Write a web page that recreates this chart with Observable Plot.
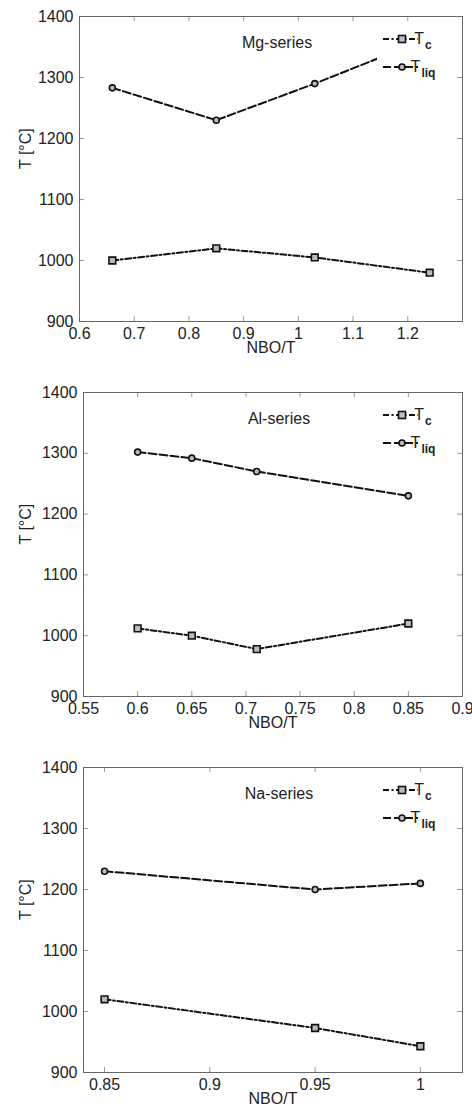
<!DOCTYPE html>
<html><head><meta charset="utf-8">
<script src="https://cdn.jsdelivr.net/npm/d3@7"></script>
<script src="https://cdn.jsdelivr.net/npm/@observablehq/plot@0.6"></script>
<style>body{margin:0;background:#fff} #c svg{display:block}</style>
</head><body><div id="c"></div>
<script>
// Mg-series
const mgNBO = [0.66, 0.85, 1.03, 1.24];
const mgTc = [1000, 1020, 1005, 980];
const mgTliq = [1283, 1230, 1290, 1365];
const mgXTicks = [0.6, 0.7, 0.8, 0.9, 1, 1.1, 1.2];
// Al-series
const alNBO = [0.6, 0.65, 0.71, 0.85];
const alTc = [1012, 1000, 978, 1020];
const alTliq = [1302, 1292, 1270, 1230];
const alXTicks = [0.55, 0.6, 0.65, 0.7, 0.75, 0.8, 0.85, 0.9];
// Na-series
const naNBO = [0.85, 0.95, 1.0];
const naTc = [1020, 973, 943];
const naTliq = [1230, 1200, 1210];
const naXTicks = [0.85, 0.9, 0.95, 1];
const yTicks = [900, 1000, 1100, 1200, 1300, 1400];
const seriesNames = ["Mg-series", "Al-series", "Na-series"];

const DASH_TC = "6,2.5,2,2.5";
const DASH_LIQ = "8,3";
const INK = "#111";
const LW = 2;

function legendMark(index, scales, values, dims) {
  const g = d3.create("svg:g");
  const x0 = dims.width - dims.marginRight - 85;
  const y0 = dims.marginTop;
  g.append("rect").attr("x", x0).attr("y", y0 + 5).attr("width", 78).attr("height", 64).attr("fill", "white");
  const rows = [
    {dy: 23, dash: DASH_TC, sym: "square", sub: "c"},
    {dy: 51, dash: DASH_LIQ, sym: "circle", sub: "liq"}
  ];
  for (const r of rows) {
    const y = y0 + r.dy;
    g.append("line").attr("x1", x0 + 6).attr("x2", x0 + 41).attr("y1", y).attr("y2", y)
      .attr("stroke", INK).attr("stroke-width", LW).attr("stroke-dasharray", r.dash);
    if (r.sym === "square") {
      g.append("rect").attr("x", x0 + 21.5).attr("y", y - 3.5).attr("width", 7).attr("height", 7)
        .attr("fill", "#bbb").attr("stroke", INK).attr("stroke-width", 1.6);
    } else {
      g.append("circle").attr("cx", x0 + 25).attr("cy", y).attr("r", 3)
        .attr("fill", "#bbb").attr("stroke", INK).attr("stroke-width", 1.6);
    }
    const t = g.append("text").attr("x", x0 + 46).attr("y", y + 5).attr("fill", "#222")
      .attr("font-size", 16);
    t.append("tspan").text("T");
    t.append("tspan").attr("dy", 5).attr("dx", 1).attr("font-size", 12).attr("font-weight", "bold").text(r.sub);
  }
  return g.node();
}

function panel({xDomain, xTicks, nbo, tc, tliq, name, height, mt, mb, ml}) {
  const W = 472, mr = 10;
  const fh = height - mt - mb, fw = W - ml - mr;
  const rowsTc = nbo.map((x, i) => ({x, y: tc[i]}));
  const rowsLiq = nbo.map((x, i) => ({x, y: tliq[i]}));
  return Plot.plot({
    width: W, height, marginTop: mt, marginBottom: mb, marginLeft: ml, marginRight: mr,
    style: {fontFamily: "'Liberation Sans', Arial, sans-serif", fontSize: "16px", color: "#222", background: "white"},
    x: {domain: xDomain, axis: null},
    y: {domain: [900, 1400], axis: null},
    marks: [
      Plot.tickX(xTicks, {x: d => d, stroke: "#999", insetTop: fh - 5}),
      Plot.tickX(xTicks, {x: d => d, stroke: "#999", insetBottom: fh - 5}),
      Plot.tickY(yTicks, {y: d => d, stroke: "#999", insetRight: fw - 5}),
      Plot.tickY(yTicks, {y: d => d, stroke: "#999", insetLeft: fw - 5}),
      Plot.frame({stroke: "#666"}),
      Plot.axisX(xTicks, {tickSize: 0, tickPadding: 6, tickFormat: d => String(d), label: null, fill: "#222"}),
      Plot.axisY(yTicks, {tickSize: 0, tickPadding: 6, tickFormat: d => String(d), label: null, fill: "#222"}),
      Plot.line(rowsTc, {x: "x", y: "y", stroke: INK, strokeWidth: LW, strokeDasharray: DASH_TC}),
      Plot.line(rowsLiq, {x: "x", y: "y", stroke: INK, strokeWidth: LW, strokeDasharray: DASH_LIQ}),
      Plot.dot(rowsTc, {x: "x", y: "y", symbol: "square", r: 3.8, stroke: INK, fill: "#bbb", strokeWidth: 1.6}),
      Plot.dot(rowsLiq, {x: "x", y: "y", symbol: "circle", r: 3, stroke: INK, fill: "#bbb", strokeWidth: 1.6}),
      Plot.text([name], {frameAnchor: "top", dx: 6, dy: 20, fill: "#222"}),
      Plot.text(["NBO/T"], {frameAnchor: "bottom", dy: 31, fill: "#222"}),
      Plot.text(["T [°C]"], {frameAnchor: "left", dx: -(ml - 25), rotate: -90, fill: "#222"}),
      legendMark
    ]
  });
}

const c = document.getElementById("c");
c.append(panel({xDomain: [0.6, 1.3], xTicks: mgXTicks, nbo: mgNBO, tc: mgTc, tliq: mgTliq, name: seriesNames[0], height: 370, mt: 16, mb: 49, ml: 79}));
c.append(panel({xDomain: [0.55, 0.9], xTicks: alXTicks, nbo: alNBO, tc: alTc, tliq: alTliq, name: seriesNames[1], height: 370, mt: 22, mb: 44, ml: 83}));
c.append(panel({xDomain: [0.84, 1.02], xTicks: naXTicks, nbo: naNBO, tc: naTc, tliq: naTliq, name: seriesNames[2], height: 371, mt: 27, mb: 39, ml: 83}));
</script>
</body></html>
